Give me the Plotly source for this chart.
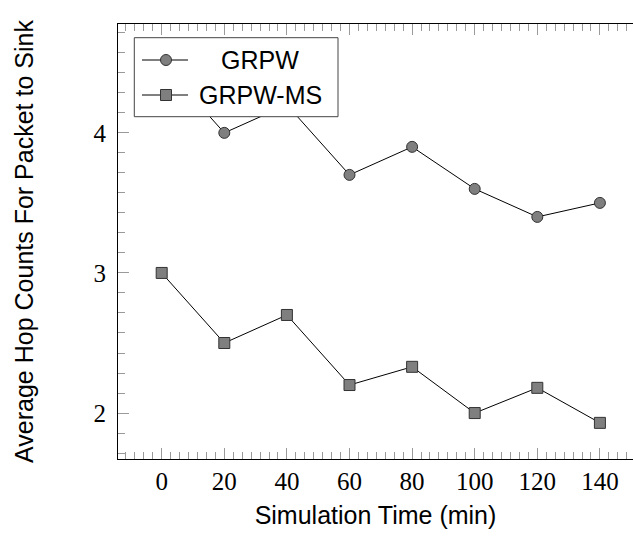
import plotly.graph_objects as go

# ---- data ----
sim_time = [0, 20, 40, 60, 80, 100, 120, 140]
grpw = [4.5, 4.0, 4.2, 3.7, 3.9, 3.6, 3.4, 3.5]
grpw_ms = [3.0, 2.5, 2.7, 2.2, 2.33, 2.0, 2.18, 1.93]
series_names = ["GRPW", "GRPW-MS"]
x_ticks = [0, 20, 40, 60, 80, 100, 120, 140]
y_ticks = [2, 3, 4]

W, H = 633, 537
ML, MR, MT, MB = 118, 0, 24, 78
PW, PH = W - ML - MR, H - MT - MB

def px(xp):
    return (xp - ML) / PW

def py(yp):
    return (H - MB - yp) / PH

fill = "#7f7f7f"
edge = "#333333"

fig = go.Figure()
fig.add_trace(go.Scatter(
    x=sim_time, y=grpw, mode="lines+markers", name=series_names[0],
    line=dict(color="black", width=1),
    marker=dict(symbol="circle", size=11, color=fill, line=dict(color=edge, width=1)),
    showlegend=False))
fig.add_trace(go.Scatter(
    x=sim_time, y=grpw_ms, mode="lines+markers", name=series_names[1],
    line=dict(color="black", width=1),
    marker=dict(symbol="square", size=11, color=fill, line=dict(color=edge, width=1)),
    showlegend=False))

tickfont = dict(family="Liberation Serif", size=25, color="black")
titlefont = dict(family="Liberation Sans", size=25, color="black")
tickcol = "#9a9a9a"

fig.update_xaxes(
    range=[-13.96, 150.57], tickvals=x_ticks, ticktext=[str(v) for v in x_ticks],
    showline=True, linecolor="black", linewidth=1.2, mirror="allticks",
    ticks="inside", ticklen=11, tickwidth=1, tickcolor=tickcol,
    minor=dict(ticks="inside", ticklen=7, tickwidth=1, tickcolor=tickcol, dtick=20 / 7, tick0=0, showgrid=False),
    showgrid=False, zeroline=False, tickfont=tickfont,
    title=dict(text="Simulation Time (min)", font=titlefont, standoff=12),
    automargin=False)
fig.update_yaxes(
    range=[1.672, 4.777], tickvals=y_ticks, ticktext=[str(v) for v in y_ticks],
    showline=True, linecolor="black", linewidth=1.2, mirror=False,
    ticks="inside", ticklen=11, tickwidth=1, tickcolor=tickcol,
    minor=dict(ticks="inside", ticklen=7, tickwidth=1, tickcolor=tickcol, dtick=1 / 7, tick0=0, showgrid=False),
    showgrid=False, zeroline=False, tickfont=tickfont, ticklabelstandoff=6,
    title=dict(text="Average Hop Counts For Packet to Sink", font=titlefont, standoff=52),
    automargin=False)

# ---- custom legend (centered labels like the original) ----
shapes = [dict(type="rect", xref="paper", yref="paper",
               x0=px(134.3), x1=px(338), y0=py(116.7), y1=py(37.7),
               line=dict(color="#444444", width=1), fillcolor="white", layer="above")]
annotations = []
entry_y = [60, 95]
symbols = ["circle", "rect"]
for name, ey, sym in zip(series_names, entry_y, symbols):
    shapes.append(dict(type="line", xref="paper", yref="paper",
                       x0=px(142), x1=px(188), y0=py(ey), y1=py(ey),
                       line=dict(color="black", width=1), layer="above"))
    shapes.append(dict(type=sym, xref="paper", yref="paper",
                       xsizemode="pixel", ysizemode="pixel",
                       xanchor=px(166), yanchor=py(ey),
                       x0=-5.5, x1=5.5, y0=-5.5, y1=5.5,
                       fillcolor=fill, line=dict(color=edge, width=1), layer="above"))
    annotations.append(dict(xref="paper", yref="paper", x=px(260), y=py(ey),
                            text=name, showarrow=False, xanchor="center", yanchor="middle",
                            font=dict(family="Liberation Sans", size=25, color="black")))

fig.update_layout(
    width=W, height=H, margin=dict(l=ML, r=MR, t=MT, b=MB, pad=0),
    plot_bgcolor="white", paper_bgcolor="white",
    shapes=shapes, annotations=annotations, showlegend=False)

fig.write_html("out.html", config={"displayModeBar": False},
               post_script="document.body.style.margin='0';document.body.style.padding='0';document.body.style.overflow='hidden';")
